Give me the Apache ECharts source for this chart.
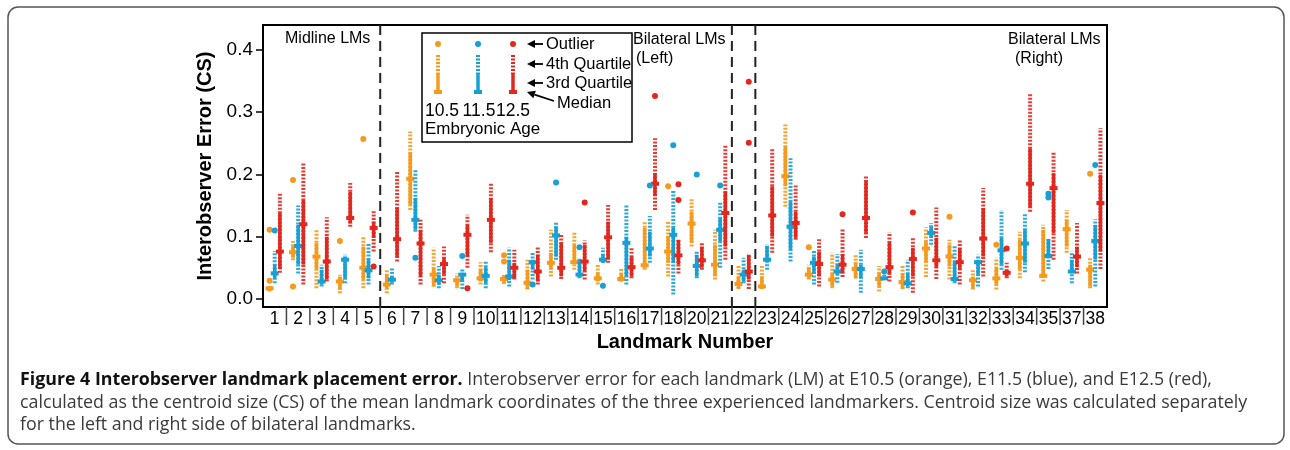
<!DOCTYPE html>
<html>
<head>
<meta charset="utf-8">
<script src="https://cdn.jsdelivr.net/npm/echarts@6/dist/echarts.min.js"></script>
<style>
  html, body { margin: 0; padding: 0; background: #fff; }
  #chart { width: 1290px; height: 450px; }
</style>
</head>
<body>
<div id="chart"></div>
<script>
// landmark numbers on the x axis (19 and 36 are not shown)
const landmarks = ['1','2','3','4','5','6','7','8','9','10','11','12','13','14','15','16','17','18',
  '20','21','22','23','24','25','26','27','28','29','30','31','32','33','34','35','37','38'];

// per landmark: [min, q1, median, q3, max]
const e105 = [
  [0.012,0.013,0.017,0.020,0.022],[0.062,0.066,0.075,0.085,0.093],[0.017,0.047,0.068,0.090,0.111],
  [0.009,0.015,0.028,0.036,0.039],[0.017,0.031,0.050,0.084,0.099],[0.009,0.017,0.023,0.039,0.048],
  [0.143,0.151,0.193,0.234,0.269],[0.020,0.020,0.039,0.050,0.082],[0.017,0.020,0.030,0.033,0.041],
  [0.023,0.028,0.033,0.048,0.059],[0.024,0.027,0.032,0.037,0.039],[0.015,0.016,0.026,0.047,0.063],
  [0.036,0.047,0.058,0.074,0.111],[0.047,0.058,0.059,0.087,0.108],[0.023,0.028,0.033,0.041,0.055],
  [0.028,0.028,0.032,0.041,0.048],[0.047,0.050,0.054,0.114,0.124],[0.036,0.058,0.076,0.101,0.126],
  [0.084,0.092,0.121,0.140,0.160],[0.031,0.036,0.055,0.087,0.111],[0.016,0.017,0.024,0.036,0.053],
  [0.016,0.017,0.020,0.036,0.055],[0.148,0.181,0.197,0.245,0.280],[0.031,0.033,0.039,0.050,0.055],
  [0.017,0.020,0.031,0.041,0.074],[0.033,0.033,0.048,0.058,0.071],[0.012,0.020,0.032,0.041,0.053],
  [0.016,0.017,0.027,0.041,0.055],[0.035,0.060,0.081,0.092,0.115],[0.031,0.052,0.068,0.087,0.095],
  [0.015,0.017,0.030,0.036,0.046],[0.015,0.023,0.033,0.050,0.066],[0.033,0.047,0.066,0.095,0.108],
  [0.028,0.036,0.037,0.111,0.119],[0.074,0.084,0.112,0.127,0.143],[0.017,0.020,0.047,0.055,0.066]
];
const e115 = [
  [0.025,0.033,0.041,0.055,0.077],[0.041,0.055,0.085,0.119,0.150],[0.020,0.023,0.028,0.047,0.055],
  [0.025,0.033,0.063,0.068,0.071],[0.023,0.033,0.046,0.063,0.090],[0.023,0.026,0.031,0.036,0.051],
  [0.108,0.111,0.127,0.162,0.207],[0.017,0.023,0.030,0.039,0.053],[0.016,0.028,0.039,0.042,0.048],
  [0.017,0.025,0.037,0.051,0.060],[0.020,0.030,0.036,0.063,0.082],[0.031,0.047,0.059,0.063,0.074],
  [0.063,0.068,0.102,0.116,0.123],[0.033,0.036,0.039,0.063,0.066],[0.058,0.058,0.063,0.072,0.082],
  [0.023,0.036,0.090,0.100,0.150],[0.058,0.068,0.081,0.108,0.133],[0.007,0.058,0.103,0.114,0.174],
  [0.033,0.036,0.053,0.071,0.076],[0.050,0.092,0.111,0.130,0.155],[0.025,0.028,0.039,0.047,0.066],
  [0.047,0.060,0.063,0.085,0.087],[0.060,0.079,0.116,0.156,0.226],[0.023,0.041,0.058,0.068,0.079],
  [0.026,0.039,0.044,0.055,0.072],[0.010,0.033,0.048,0.055,0.079],[0.031,0.031,0.033,0.036,0.039],
  [0.017,0.020,0.025,0.041,0.063],[0.087,0.098,0.106,0.116,0.122],[0.025,0.028,0.032,0.060,0.085],
  [0.020,0.039,0.059,0.063,0.071],[0.047,0.055,0.078,0.098,0.143],[0.043,0.058,0.089,0.111,0.138],
  [0.048,0.066,0.069,0.096,0.098],[0.025,0.041,0.044,0.063,0.076],[0.020,0.063,0.093,0.119,0.128]
];
const e125 = [
  [0.042,0.048,0.076,0.138,0.170],[0.023,0.055,0.120,0.159,0.219],[0.028,0.031,0.060,0.100,0.131],
  [0.116,0.121,0.130,0.172,0.186],[0.076,0.098,0.114,0.124,0.141],[0.060,0.068,0.096,0.146,0.205],
  [0.023,0.036,0.089,0.111,0.127],[0.025,0.039,0.056,0.066,0.084],[0.050,0.068,0.103,0.119,0.135],
  [0.075,0.090,0.127,0.162,0.185],[0.031,0.033,0.050,0.058,0.079],[0.023,0.028,0.044,0.071,0.085],
  [0.032,0.036,0.050,0.090,0.105],[0.031,0.044,0.060,0.087,0.094],[0.058,0.063,0.099,0.124,0.151],
  [0.033,0.036,0.051,0.068,0.082],[0.143,0.165,0.185,0.202,0.258],[0.041,0.055,0.070,0.095,0.095],
  [0.047,0.050,0.062,0.084,0.090],[0.063,0.084,0.138,0.173,0.247],[0.016,0.031,0.044,0.071,0.072],
  [0.074,0.100,0.134,0.181,0.242],[0.095,0.098,0.122,0.140,0.182],[0.020,0.036,0.056,0.076,0.096],
  [0.035,0.041,0.055,0.072,0.112],[0.098,0.106,0.130,0.189,0.198],[0.028,0.039,0.051,0.090,0.107],
  [0.010,0.036,0.064,0.082,0.098],[0.032,0.050,0.062,0.098,0.147],[0.023,0.047,0.059,0.082,0.095],
  [0.036,0.068,0.097,0.146,0.178],[0.033,0.036,0.042,0.047,0.058],[0.140,0.147,0.185,0.242,0.331],
  [0.063,0.106,0.178,0.202,0.237],[0.041,0.051,0.068,0.084,0.122],[0.048,0.076,0.154,0.199,0.274]
];

// outliers: [landmark, value]
const out105 = [['1',0.111],['1',0.029],['2',0.191],['2',0.020],['4',0.093],['5',0.257],['11',0.070],
  ['11',0.060],['18',0.181],['25',0.083],['31',0.132],['33',0.087],['38',0.201]];
const out115 = [['1',0.110],['7',0.066],['9',0.069],['12',0.023],['13',0.187],['14',0.083],['15',0.021],
  ['17',0.182],['18',0.247],['20',0.200],['21',0.182],['28',0.044],['35',0.169],['35',0.163],['38',0.215]];
const out125 = [['5',0.052],['9',0.017],['14',0.155],['17',0.326],['18',0.184],['18',0.159],['22',0.349],
  ['22',0.251],['26',0.136],['29',0.139],['33',0.081]];

const yTicks = [0, 0.1, 0.2, 0.3, 0.4];
// group boundaries (after landmark 5, 21 and 22)
const groupBreaks = ['5', '21', '22'];

const ORANGE = '#F59A1C', BLUE = '#17A0D6', RED = '#E0281F';
const FONT = '"Liberation Sans", Arial, sans-serif';

function boxItem(offset, color) {
  return function (params, api) {
    const i = api.value(0);
    const bw = api.size([1, 0])[0];
    const x = api.coord([i, 0])[0] + offset * bw;
    const y = v => api.coord([i, v])[1];
    const lo = y(api.value(1)), q1 = y(api.value(2)), md = y(api.value(3)),
          q3 = y(api.value(4)), hi = y(api.value(5));
    return {
      type: 'group',
      children: [
        { type: 'line', shape: { x1: x, y1: lo, x2: x, y2: hi },
          style: { stroke: color, lineWidth: 4, lineDash: [2, 1.5], opacity: 0.9 } },
        { type: 'line', shape: { x1: x, y1: q1, x2: x, y2: q3 },
          style: { stroke: color, lineWidth: 3.5 } },
        { type: 'rect', shape: { x: x - 4, y: md - 2, width: 8, height: 4 },
          style: { fill: color } }
      ]
    };
  };
}

function outlierItem(offset, color) {
  return function (params, api) {
    const i = api.value(0);
    const bw = api.size([1, 0])[0];
    const p = api.coord([i, api.value(1)]);
    return { type: 'circle', shape: { cx: p[0] + offset * bw, cy: p[1], r: 3 }, style: { fill: color } };
  };
}

function boxSeries(name, arr, offset, color) {
  return {
    name: name, type: 'custom', renderItem: boxItem(offset, color),
    encode: { x: 0, y: [1, 2, 3, 4, 5] },
    data: arr.map((d, i) => [i].concat(d)), z: 3
  };
}
function outSeries(name, arr, offset, color) {
  return {
    name: name, type: 'custom', renderItem: outlierItem(offset, color),
    encode: { x: 0, y: 1 },
    data: arr.map(d => [landmarks.indexOf(d[0]), d[1]]), z: 4
  };
}

const chart = echarts.init(document.getElementById('chart'));

const LZ = 20;
const legendGlyph = (x, color) => [
  { type: 'circle', z: LZ, shape: { cx: x, cy: 44, r: 3 }, style: { fill: color } },
  { type: 'line', z: LZ, shape: { x1: x, y1: 55, x2: x, y2: 74 }, style: { stroke: color, lineWidth: 4, lineDash: [2, 1.5] } },
  { type: 'line', z: LZ, shape: { x1: x, y1: 74, x2: x, y2: 92 }, style: { stroke: color, lineWidth: 3.5 } },
  { type: 'rect', z: LZ, shape: { x: x - 4, y: 90, width: 8, height: 4 }, style: { fill: color } }
];
const arrow = (x1, y1, x2, y2) => {
  const a = Math.atan2(y1 - y2, x1 - x2);
  const h = 8, w = 4;
  const bx = x1 - Math.cos(a) * h, by = y1 - Math.sin(a) * h;
  return [
    { type: 'line', z: LZ, shape: { x1: bx, y1: by, x2: x2, y2: y2 }, style: { stroke: '#000', lineWidth: 1.8 } },
    { type: 'polygon', z: LZ, shape: { points: [[x1, y1], [bx - Math.sin(a) * w, by + Math.cos(a) * w], [bx + Math.sin(a) * w, by - Math.cos(a) * w]] },
      style: { fill: '#000' } }
  ];
};
const txt = (x, y, text, size, extra) => ({
  type: 'text', x: x, y: y, z: LZ,
  style: Object.assign({ text: text, fontSize: size, fontFamily: FONT, fill: '#000', verticalAlign: 'middle' }, extra || {})
});

chart.setOption({
  animation: false,
  textStyle: { fontFamily: FONT },
  grid: { left: 263, right: 183, top: 25, bottom: 143, show: true, borderColor: '#000', borderWidth: 2 },
  xAxis: {
    type: 'category', data: landmarks,
    name: 'Landmark Number', nameLocation: 'middle', nameGap: 25,
    nameTextStyle: { fontSize: 20, fontWeight: 'bold', color: '#000' },
    axisLine: { onZero: false, lineStyle: { color: '#000', width: 2 } },
    axisTick: { show: false },
    axisLabel: { interval: 0, fontSize: 17.5, color: '#000', margin: 3 },
    splitLine: { show: false }
  },
  yAxis: {
    type: 'value', min: -0.013, max: 0.44,
    name: 'Interobserver Error (CS)', nameLocation: 'middle', nameGap: 46,
    nameTextStyle: { fontSize: 20, fontWeight: 'bold', color: '#000' },
    axisLine: { show: true, lineStyle: { color: '#000', width: 2 } },
    axisTick: { show: true, length: 7, customValues: yTicks, lineStyle: { color: '#000', width: 1.5 } },
    axisLabel: { customValues: yTicks, fontSize: 19, color: '#000', margin: 10, formatter: v => v.toFixed(1) },
    splitLine: { show: false }
  },
  series: [
    {
      // category separators below the axis
      type: 'custom', silent: true, z: 1,
      data: landmarks.slice(0, -1).map((l, i) => [i]),
      renderItem: function (params, api) {
        const bw = api.size([1, 0])[0];
        const x = api.coord([api.value(0), 0])[0] + bw / 2;
        const b = params.coordSys.y + params.coordSys.height;
        return { type: 'line', shape: { x1: x, y1: b, x2: x, y2: b + 18 }, style: { stroke: '#444', lineWidth: 1.5 } };
      }
    },
    {
      // dashed group boundaries
      type: 'custom', silent: true, z: 1,
      data: groupBreaks.map(l => [landmarks.indexOf(l)]),
      renderItem: function (params, api) {
        const bw = api.size([1, 0])[0];
        const x = api.coord([api.value(0), 0])[0] + bw / 2;
        const cs = params.coordSys;
        return { type: 'line', shape: { x1: x, y1: cs.y, x2: x, y2: cs.y + cs.height },
          style: { stroke: '#222', lineWidth: 2, lineDash: [10, 6] } };
      }
    },
    boxSeries('E10.5', e105, -0.22, ORANGE),
    boxSeries('E11.5', e115, 0, BLUE),
    boxSeries('E12.5', e125, 0.22, RED),
    outSeries('E10.5 outlier', out105, -0.22, ORANGE),
    outSeries('E11.5 outlier', out115, 0, BLUE),
    outSeries('E12.5 outlier', out125, 0.22, RED)
  ],
  graphic: [
    { type: 'rect', shape: { x: 8, y: 7, width: 1276, height: 437, r: 10 }, style: { fill: 'none', stroke: '#555', lineWidth: 1.5 }, z: -1 },
    { type: 'rect', shape: { x: 422, y: 33, width: 210, height: 109 }, style: { fill: '#fff', stroke: '#000', lineWidth: 1.5 }, z: 10 }
  ].concat(
    legendGlyph(438, ORANGE), legendGlyph(478, BLUE), legendGlyph(513, RED),
    arrow(527, 44, 543, 44), arrow(527, 64, 543, 64), arrow(527, 83, 543, 83), arrow(527, 92, 554, 101),
    [
      txt(546, 44, 'Outlier', 16.5),
      txt(546, 64, '4th Quartile', 16.5),
      txt(546, 83, '3rd Quartile', 16.5),
      txt(557, 103, 'Median', 16.5),
      txt(442, 111, '10.5', 17.5, { align: 'center' }),
      txt(479, 111, '11.5', 17.5, { align: 'center' }),
      txt(513, 111, '12.5', 17.5, { align: 'center' }),
      txt(425, 129, 'Embryonic Age', 17),
      txt(285, 39, 'Midline LMs', 16),
      txt(633, 40, 'Bilateral LMs', 16),
      txt(636, 59, '(Left)', 16),
      txt(1008, 40, 'Bilateral LMs', 16),
      txt(1015, 59, '(Right)', 16),
      {
        type: 'text', left: 20, top: 369, z: LZ,
        style: {
          text: '{b|Figure 4 Interobserver landmark placement error.} Interobserver error for each landmark (LM) at E10.5 (orange), E11.5 (blue), and E12.5 (red),\n' +
                'calculated as the centroid size (CS) of the mean landmark coordinates of the three experienced landmarkers. Centroid size was calculated separately\n' +
                'for the left and right side of bilateral landmarks.',
          fontFamily: '"Open Sans", sans-serif', fontSize: 17.8, lineHeight: 22.5, fill: '#3a3a3a',
          rich: { b: { fontFamily: '"Open Sans", sans-serif', fontSize: 17.8, fontWeight: 'bold', fill: '#111', lineHeight: 22.5 } }
        }
      }
    ])
});
</script>
</body>
</html>
